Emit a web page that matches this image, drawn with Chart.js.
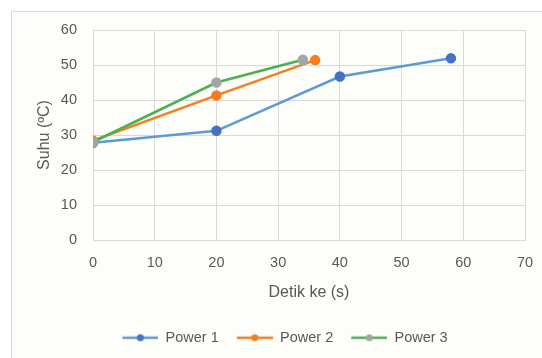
<!DOCTYPE html>
<html>
<head>
<title>Suhu vs Detik</title>
<style>
  html, body { margin: 0; padding: 0; background: #ffffff; }
  #wrap { position: relative; width: 542px; height: 358px; }
</style>
</head>
<body>
<div id="wrap"><canvas id="suhuChart" width="542" height="358"></canvas></div>
<script src="https://cdn.jsdelivr.net/npm/chart.js"></script>
<script>
// data
const seriesNames = ['Power 1', 'Power 2', 'Power 3'];
const power1X = [0, 20, 40, 58];
const power1Y = [27.8, 31.2, 46.7, 51.9];
const power2X = [0, 20, 36];
const power2Y = [28.4, 41.3, 51.4];
const power3X = [0, 20, 34];
const power3Y = [28, 45, 51.5];
const xTicks = [0, 10, 20, 30, 40, 50, 60, 70];
const yTicks = [0, 10, 20, 30, 40, 50, 60];

const lineColors = ['#5b9bd5', '#f57f20', '#4caf50'];
const markColors = ['#4472c4', '#f57f20', '#a5a5a5'];
const FONT = 'Liberation Sans, Arial, sans-serif';
const PAD_LEFT = 14;
const PAD_BOTTOM = 3;

function toPoints(xs, ys) {
    return xs.map((x, i) => ({ x: x, y: ys[i] }));
}

// legend swatch: short line with a dot, with some empty room on the left
function swatch(lineCol, dotCol) {
    const c = document.createElement('canvas');
    c.width = 50; c.height = 10;
    const g = c.getContext('2d');
    g.strokeStyle = lineCol;
    g.lineWidth = 2.5;
    g.beginPath(); g.moveTo(14, 5); g.lineTo(50, 5); g.stroke();
    g.fillStyle = dotCol;
    g.beginPath(); g.arc(32, 5, 3.5, 0, Math.PI * 2); g.fill();
    return c;
}

const frame = {
    id: 'frame',
    beforeDraw(chart) {
        const ctx = chart.ctx;
        ctx.save();
        ctx.fillStyle = '#fdfdf9';
        ctx.fillRect(11, 11, 600, 400);
        ctx.strokeStyle = '#d9d9d9';
        ctx.lineWidth = 1;
        ctx.strokeRect(11.5, 11.5, 600, 400);
        ctx.restore();
    }
};

const allX = [power1X, power2X, power3X];
const allY = [power1Y, power2Y, power3Y];

const datasets = seriesNames.map((name, i) => ({
    label: name,
    data: toPoints(allX[i], allY[i]),
    borderColor: lineColors[i],
    backgroundColor: markColors[i],
    pointBackgroundColor: markColors[i],
    pointBorderColor: markColors[i],
    pointRadius: 4,
    pointHoverRadius: 4,
    borderWidth: 2.5,
    showLine: true,
    order: 3 - i
}));

const swatches = seriesNames.map((n, i) => swatch(lineColors[i], markColors[i]));

new Chart(document.getElementById('suhuChart'), {
    type: 'scatter',
    data: { datasets: datasets },
    plugins: [frame],
    options: {
        responsive: false,
        animation: false,
        layout: { padding: { left: PAD_LEFT, top: 30, right: 0, bottom: PAD_BOTTOM } },
        plugins: {
            tooltip: { enabled: false },
            legend: {
                position: 'bottom',
                labels: {
                    usePointStyle: true,
                    pointStyleWidth: 50,
                    boxHeight: 10,
                    padding: 4,
                    color: '#595959',
                    font: { family: FONT, size: 14.5 },
                    generateLabels(chart) {
                        return chart.data.datasets.map((ds, i) => ({
                            text: ds.label,
                            pointStyle: swatches[i],
                            fillStyle: markColors[i],
                            strokeStyle: lineColors[i],
                            lineWidth: 0,
                            fontColor: '#595959',
                            hidden: false,
                            datasetIndex: i
                        }));
                    }
                }
            }
        },
        scales: {
            x: {
                type: 'linear',
                min: 0, max: 70,
                afterBuildTicks(scale) { scale.ticks = xTicks.map(v => ({ value: v })); },
                afterFit(scale) {
                    const lg = scale.chart.legend;
                    scale.height = 358 - PAD_BOTTOM - (lg ? lg.height : 32) - 240;
                    scale.paddingRight = 17;
                },
                grid: { color: '#d9d9d9', drawTicks: false },
                border: { color: '#d9d9d9' },
                ticks: { color: '#595959', font: { family: FONT, size: 14.5 }, padding: 14 },
                title: {
                    display: true,
                    text: 'Detik ke (s)',
                    color: '#595959',
                    font: { family: FONT, size: 16 },
                    padding: { top: 0, bottom: 24 }
                }
            },
            y: {
                type: 'linear',
                min: 0, max: 60,
                afterBuildTicks(scale) { scale.ticks = yTicks.map(v => ({ value: v })); },
                afterFit(scale) { scale.width = 93 - PAD_LEFT; },
                grid: { color: '#d9d9d9', drawTicks: false },
                border: { color: '#d9d9d9' },
                ticks: { color: '#595959', font: { family: FONT, size: 14.5 }, padding: 16 },
                title: {
                    display: true,
                    text: 'Suhu (ºC)',
                    color: '#595959',
                    font: { family: FONT, size: 16 },
                    padding: { top: 35 - PAD_LEFT, bottom: 0 }
                }
            }
        }
    }
});
</script>
</body>
</html>
